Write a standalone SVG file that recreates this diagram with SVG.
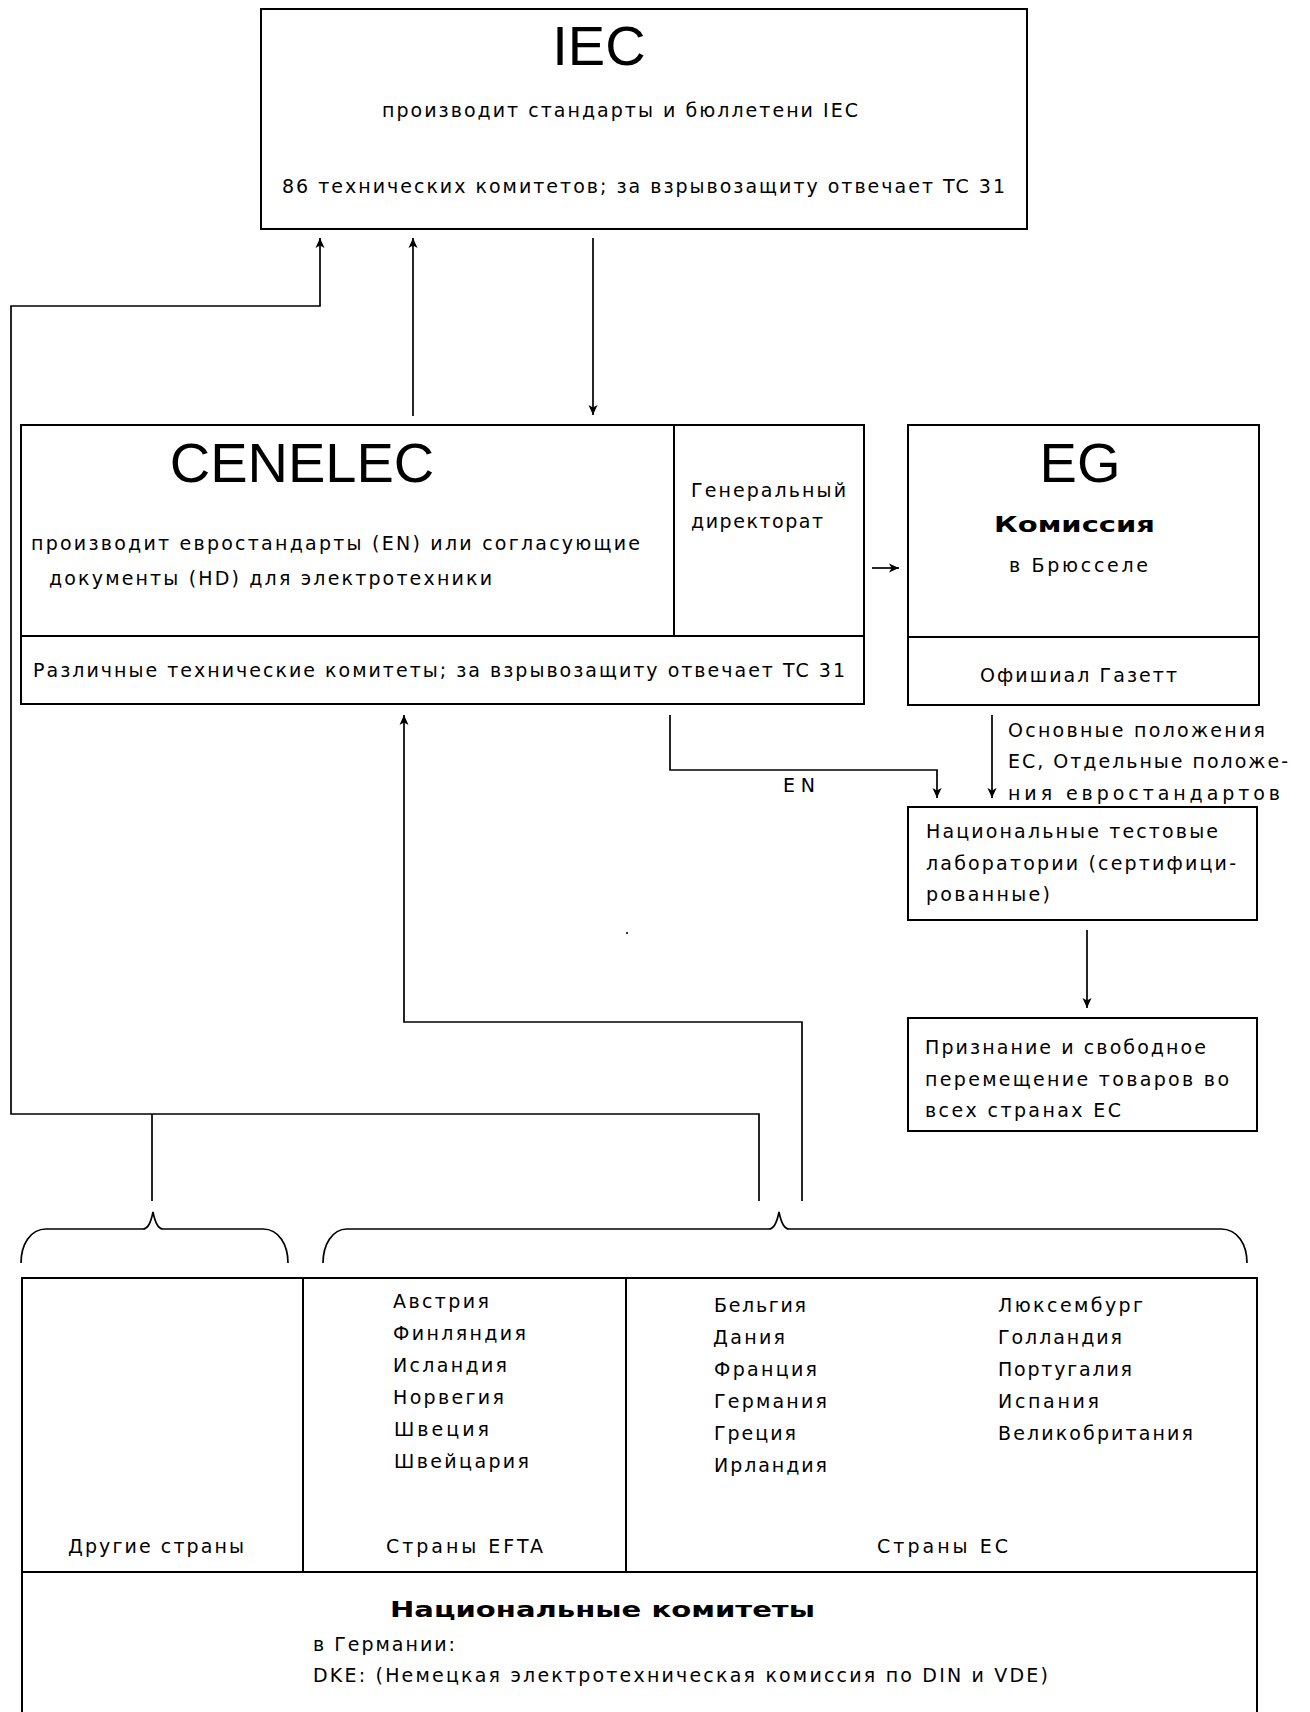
<svg xmlns="http://www.w3.org/2000/svg" width="1310" height="1712" viewBox="0 0 1310 1712">
<defs>
<style>
.box{fill:#fff;stroke:#000;stroke-width:2}
.ln{fill:none;stroke:#000;stroke-width:2}
.cn{fill:none;stroke:#000;stroke-width:1.7}
.t{font-family:"DejaVu Sans","Liberation Sans",Arial,sans-serif;font-size:19px;fill:#000}
.big{font-family:"Liberation Sans",Arial,sans-serif;font-size:56px;fill:#000;text-anchor:middle}
.b{font-family:"DejaVu Sans","Liberation Sans",Arial,sans-serif;font-weight:bold;font-size:22px;fill:#000}
</style>
<marker id="ah" markerUnits="userSpaceOnUse" markerWidth="11" markerHeight="10" refX="10" refY="5" orient="auto">
<path d="M0,0.5 L10,5 L0,9.5 L2.5,5 z" fill="#000"/>
</marker>
</defs>
<rect width="1310" height="1712" fill="#fff"/>

<g id="iec">
<rect class="box" x="261" y="9" width="766" height="220"/>
<text class="big" x="599" y="65">IEC</text>
<text class="t" x="382" y="117" textLength="476" lengthAdjust="spacing">производит стандарты и бюллетени IEC</text>
<text class="t" x="282" y="193" textLength="723" lengthAdjust="spacing">86 технических комитетов; за взрывозащиту отвечает TC 31</text>
</g>

<g id="cenelec">
<rect class="box" x="21" y="425" width="843" height="279"/>
<line class="ln" x1="21" y1="636" x2="864" y2="636"/>
<line class="ln" x1="674" y1="425" x2="674" y2="636"/>
<text class="big" x="302" y="482">CENELEC</text>
<text class="t" x="691" y="497" textLength="155" lengthAdjust="spacing">Генеральный</text>
<text class="t" x="691" y="528" textLength="132" lengthAdjust="spacing">директорат</text>
<text class="t" x="31" y="550" textLength="609" lengthAdjust="spacing">производит евростандарты (EN) или согласующие</text>
<text class="t" x="49" y="585" textLength="443" lengthAdjust="spacing">документы (HD) для электротехники</text>
<text class="t" x="33" y="677" textLength="812" lengthAdjust="spacing">Различные технические комитеты; за взрывозащиту отвечает TC 31</text>
</g>

<g id="eg">
<rect class="box" x="908" y="425" width="351" height="280"/>
<line class="ln" x1="908" y1="637" x2="1259" y2="637"/>
<text class="big" x="1080" y="482">EG</text>
<text class="b" x="994" y="532" textLength="161" lengthAdjust="spacingAndGlyphs">Комиссия</text>
<text class="t" x="1009" y="572" textLength="139" lengthAdjust="spacing">в Брюсселе</text>
<text class="t" x="980" y="682" textLength="197" lengthAdjust="spacing">Офишиал Газетт</text>
</g>

<g id="eg-label">
<text class="t" x="1008" y="737" textLength="257" lengthAdjust="spacing">Основные положения</text>
<text class="t" x="1008" y="768" textLength="280" lengthAdjust="spacing">ЕС, Отдельные положе-</text>
<text class="t" x="1008" y="800" textLength="272" lengthAdjust="spacing">ния евростандартов</text>
</g>

<g id="labs">
<rect class="box" x="908" y="807" width="349" height="113"/>
<text class="t" x="926" y="838" textLength="292" lengthAdjust="spacing">Национальные тестовые</text>
<text class="t" x="926" y="870" textLength="310" lengthAdjust="spacing">лаборатории (сертифици-</text>
<text class="t" x="926" y="901" textLength="124" lengthAdjust="spacing">рованные)</text>
</g>

<g id="recognition">
<rect class="box" x="908" y="1018" width="349" height="113"/>
<text class="t" x="925" y="1054" textLength="281" lengthAdjust="spacing">Признание и свободное</text>
<text class="t" x="925" y="1086" textLength="304" lengthAdjust="spacing">перемещение товаров во</text>
<text class="t" x="925" y="1117" textLength="196" lengthAdjust="spacing">всех странах ЕС</text>
</g>

<g id="countries">
<rect class="box" x="22" y="1278" width="1235" height="450"/>
<line class="ln" x1="22" y1="1572" x2="1257" y2="1572"/>
<line class="ln" x1="303" y1="1278" x2="303" y2="1572"/>
<line class="ln" x1="626" y1="1278" x2="626" y2="1572"/>
<g id="efta-list">
<text class="t" x="393" y="1308" textLength="96" lengthAdjust="spacing">Австрия</text>
<text class="t" x="393" y="1340" textLength="133" lengthAdjust="spacing">Финляндия</text>
<text class="t" x="393" y="1372" textLength="114" lengthAdjust="spacing">Исландия</text>
<text class="t" x="393" y="1404" textLength="111" lengthAdjust="spacing">Норвегия</text>
<text class="t" x="394" y="1436" textLength="95" lengthAdjust="spacing">Швеция</text>
<text class="t" x="394" y="1468" textLength="135" lengthAdjust="spacing">Швейцария</text>
</g>
<g id="ec-list">
<text class="t" x="714" y="1312" textLength="92" lengthAdjust="spacing">Бельгия</text>
<text class="t" x="713" y="1344" textLength="72" lengthAdjust="spacing">Дания</text>
<text class="t" x="714" y="1376" textLength="103" lengthAdjust="spacing">Франция</text>
<text class="t" x="714" y="1408" textLength="113" lengthAdjust="spacing">Германия</text>
<text class="t" x="714" y="1440" textLength="82" lengthAdjust="spacing">Греция</text>
<text class="t" x="714" y="1472" textLength="113" lengthAdjust="spacing">Ирландия</text>
<text class="t" x="998" y="1312" textLength="145" lengthAdjust="spacing">Люксембург</text>
<text class="t" x="998" y="1344" textLength="124" lengthAdjust="spacing">Голландия</text>
<text class="t" x="998" y="1376" textLength="134" lengthAdjust="spacing">Португалия</text>
<text class="t" x="998" y="1408" textLength="101" lengthAdjust="spacing">Испания</text>
<text class="t" x="998" y="1440" textLength="195" lengthAdjust="spacing">Великобритания</text>
</g>
<text class="t" x="68" y="1553" textLength="176" lengthAdjust="spacing">Другие страны</text>
<text class="t" x="386" y="1553" textLength="157" lengthAdjust="spacing">Страны EFTA</text>
<text class="t" x="877" y="1553" textLength="131" lengthAdjust="spacing">Страны ЕС</text>
<text class="b" x="390" y="1617" textLength="425" lengthAdjust="spacingAndGlyphs">Национальные комитеты</text>
<text class="t" x="313" y="1651" textLength="142" lengthAdjust="spacing">в Германии:</text>
<text class="t" x="313" y="1682" textLength="735" lengthAdjust="spacing">DKE: (Немецкая электротехническая комиссия по DIN и VDE)</text>
</g>

<g id="connectors">
<path class="cn" d="M593,238 L593,415" marker-end="url(#ah)"/>
<path class="cn" d="M413,416 L413,238" marker-end="url(#ah)"/>
<path class="cn" d="M759,1201 L759,1114 L11,1114 L11,306 L320,306 L320,238" marker-end="url(#ah)"/>
<path class="cn" d="M152,1114 L152,1201"/>
<path class="cn" d="M802,1201 L802,1022 L404,1022 L404,715" marker-end="url(#ah)"/>
<path class="cn" d="M872,568 L899,568" marker-end="url(#ah)"/>
<path class="cn" d="M670,715 L670,770 L937,770 L937,798" marker-end="url(#ah)"/>
<text class="t" x="783" y="792" textLength="32" lengthAdjust="spacing">EN</text>
<path class="cn" d="M992,715 L992,798" marker-end="url(#ah)"/>
<path class="cn" d="M1087,930 L1087,1008" marker-end="url(#ah)"/>
<path class="cn" d="M21,1263 C21,1245 30,1229 46,1229 L143,1229 C148,1229 151,1222 153,1212 C155,1222 158,1229 163,1229 L263,1229 C279,1229 288,1245 288,1263"/>
<path class="cn" d="M323,1263 C323,1245 332,1229 347,1229 L769,1229 C774,1229 777,1222 779,1212 C781,1222 784,1229 789,1229 L1221,1229 C1238,1229 1247,1245 1247,1263"/>
</g>
<circle cx="627" cy="933" r="1" fill="#000"/>
</svg>
